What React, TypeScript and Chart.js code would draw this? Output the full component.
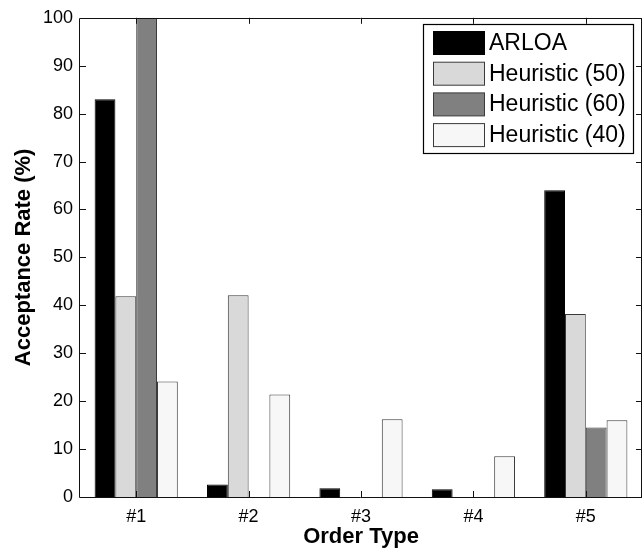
import React, { useEffect, useRef } from "react";
import { Chart, registerables } from "chart.js";

Chart.register(...registerables);

const categories = ["#1", "#2", "#3", "#4", "#5"];
const seriesLabels = ["ARLOA", "Heuristic (50)", "Heuristic (60)", "Heuristic (40)"];
const arloa = [83, 2.6, 1.8, 1.6, 64];
const heuristic50 = [41.9, 42.1, 0, 0, 38.2];
const heuristic60 = [100, 0, 0, 0, 14.5];
const heuristic40 = [24.1, 21.4, 16.2, 8.5, 16];
const yMin = 0;
const yMax = 100;
const yStep = 10;

const fillColors = ["#000000", "#d9d9d9", "#808080", "#f7f7f7"];
const edgeColors = ["#000000", "#3a3a3a", "#3a3a3a", "#3a3a3a"];
const FONT = "'Liberation Sans', Arial, Helvetica, sans-serif";

const framePlugin = {
  id: "matlabFrame",
  afterDatasetsDraw(chart: any) {
    const { ctx, chartArea } = chart;
    const { left, right, top, bottom } = chartArea;
    const xs = chart.scales.x;
    const ys = chart.scales.y;
    ctx.save();
    ctx.strokeStyle = "#111111";
    ctx.lineWidth = 1;
    ctx.beginPath();
    ctx.rect(Math.round(left) - 0.5, Math.round(top) + 0.5, Math.round(right - left), Math.round(bottom - top));
    ctx.stroke();
    const tl = 6;
    ctx.beginPath();
    ys.ticks.forEach((t: any) => {
      const y = Math.round(ys.getPixelForValue(t.value)) + 0.5;
      ctx.moveTo(left, y);
      ctx.lineTo(left + tl, y);
      ctx.moveTo(right, y);
      ctx.lineTo(right - tl, y);
    });
    xs.ticks.forEach((_t: any, i: number) => {
      const x = Math.round(xs.getPixelForTick(i)) + 0.5;
      ctx.moveTo(x, bottom);
      ctx.lineTo(x, bottom - tl);
      ctx.moveTo(x, top);
      ctx.lineTo(x, top + tl);
    });
    ctx.stroke();
    ctx.restore();
  },
  afterDraw(chart: any) {
    const { ctx } = chart;
    const bx = 423.5, by = 24.5, bw = 210, bh = 129;
    ctx.save();
    ctx.fillStyle = "#ffffff";
    ctx.fillRect(bx, by, bw, bh);
    ctx.strokeStyle = "#000000";
    ctx.lineWidth = 1.2;
    ctx.strokeRect(bx, by, bw, bh);
    ctx.font = `23px ${FONT}`;
    ctx.textBaseline = "middle";
    ctx.textAlign = "left";
    chart.data.datasets.forEach((ds: any, i: number) => {
      const sy = 31 + i * 30.7;
      ctx.fillStyle = ds.backgroundColor;
      ctx.fillRect(433.5, sy + 0.5, 51, 23);
      ctx.strokeStyle = ds.borderColor;
      ctx.lineWidth = 1;
      ctx.strokeRect(433.5, sy + 0.5, 51, 23);
      ctx.fillStyle = "#000000";
      ctx.fillText(ds.label, 489, sy + 12.5);
    });
    ctx.restore();
  },
};

export default function App() {
  const ref = useRef<HTMLCanvasElement | null>(null);

  useEffect(() => {
    if (!ref.current) return;
    const seriesValues = [arloa, heuristic50, heuristic60, heuristic40];
    const chart = new Chart(ref.current, {
      type: "bar",
      data: {
        labels: categories,
        datasets: seriesValues.map((vals, i) => ({
          label: seriesLabels[i],
          data: vals,
          backgroundColor: fillColors[i],
          borderColor: edgeColors[i],
          borderWidth: 1,
          borderSkipped: "start",
          categoryPercentage: 0.74,
          barPercentage: 1,
        })),
      },
      options: {
        responsive: false,
        animation: false,
        events: [],
        layout: { padding: { top: 15, right: 1, left: 0, bottom: 0 } },
        plugins: {
          legend: { display: false },
          tooltip: { enabled: false },
        },
        scales: {
          x: {
            grid: { display: false, drawTicks: false },
            border: { display: false },
            ticks: { color: "#000", font: { family: FONT, size: 18 }, padding: 9 },
            title: {
              display: true,
              text: "Order Type",
              color: "#000",
              font: { family: FONT, size: 22, weight: "bold" },
              padding: { top: 0, bottom: 4 },
            },
            afterFit: (s: any) => {
              s.height = 57;
            },
          },
          y: {
            min: yMin,
            max: yMax,
            grid: { display: false, drawTicks: false },
            border: { display: false },
            ticks: { stepSize: yStep, color: "#000", font: { family: FONT, size: 18 }, padding: 7 },
            title: {
              display: true,
              text: "Acceptance Rate (%)",
              color: "#000",
              font: { family: FONT, size: 22, weight: "bold" },
              padding: { top: 11, bottom: 0 },
            },
            afterFit: (s: any) => {
              s.width = 80;
            },
          },
        },
      },
      plugins: [framePlugin],
    } as any);
    return () => chart.destroy();
  }, []);

  return (
    <div style={{ position: "absolute", left: 0, top: 0, width: 643, height: 554, background: "#fff" }}>
      <canvas ref={ref} width={643} height={554} />
    </div>
  );
}
